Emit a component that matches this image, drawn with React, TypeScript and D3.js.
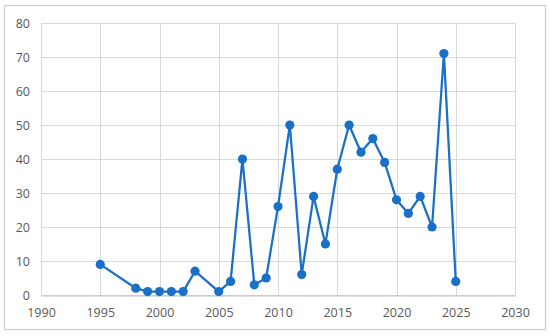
import React, { useRef, useEffect } from "react";
import { axisBottom, axisLeft, line, scaleLinear, select } from "d3";

const years = [
  1995, 1998, 1999, 2000, 2001, 2002, 2003, 2005, 2006, 2007, 2008, 2009, 2010,
  2011, 2012, 2013, 2014, 2015, 2016, 2017, 2018, 2019, 2020, 2021, 2022, 2023,
  2024, 2025,
];
const counts = [
  9, 2, 1, 1, 1, 1, 7, 1, 4, 40, 3, 5, 26, 50, 6, 29, 15, 37, 50, 42, 46, 39,
  28, 24, 29, 20, 71, 4,
];
const xTicks = [1990, 1995, 2000, 2005, 2010, 2015, 2020, 2025, 2030];
const yTicks = [0, 10, 20, 30, 40, 50, 60, 70, 80];

const W = 550;
const H = 336;
const margin = { top: 23, right: 35, bottom: 41, left: 41 };
const blue = "#1a6fc7";

function Chart() {
  const svgRef = useRef<SVGSVGElement>(null);

  useEffect(() => {
    const svg = select(svgRef.current);
    svg.selectAll("*").remove();

    const x = scaleLinear()
      .domain([1990, 2030])
      .range([margin.left, W - margin.right]);
    const y = scaleLinear()
      .domain([0, 80])
      .range([H - margin.bottom, margin.top]);

    // outer chart border
    svg
      .append("rect")
      .attr("x", 4.5)
      .attr("y", 5.5)
      .attr("width", 541)
      .attr("height", 324)
      .attr("fill", "none")
      .attr("stroke", "#cccccc")
      .attr("stroke-width", 1.2);

    // gridlines
    svg
      .append("g")
      .selectAll("line")
      .data(yTicks)
      .join("line")
      .attr("x1", x(1990))
      .attr("x2", x(2030))
      .attr("y1", (d) => Math.round(y(d)) + 0.5)
      .attr("y2", (d) => Math.round(y(d)) + 0.5)
      .attr("stroke", "#d9d9d9");
    svg
      .append("g")
      .selectAll("line")
      .data(xTicks)
      .join("line")
      .attr("x1", (d) => Math.round(x(d)) + 0.5)
      .attr("x2", (d) => Math.round(x(d)) + 0.5)
      .attr("y1", y(0))
      .attr("y2", y(80))
      .attr("stroke", "#d9d9d9");

    const xAxis = svg
      .append("g")
      .attr("transform", `translate(0,${Math.round(y(0)) + 0.5})`)
      .call(
        axisBottom(x)
          .tickValues(xTicks)
          .tickFormat((d) => String(d))
          .tickSize(0)
          .tickPadding(13)
      );
    xAxis.select(".domain").attr("stroke", "#bfbfbf");

    const yAxis = svg
      .append("g")
      .attr("transform", `translate(${margin.left},0)`)
      .call(axisLeft(y).tickValues(yTicks).tickSize(0).tickPadding(11));
    yAxis.select(".domain").remove();

    svg
      .selectAll(".tick text")
      .attr("fill", "#595959")
      .style("font", "12.5px 'Open Sans', sans-serif");

    svg
      .append("path")
      .datum(years.map((yr, i) => [yr, counts[i]] as [number, number]))
      .attr("fill", "none")
      .attr("stroke", blue)
      .attr("stroke-width", 2.25)
      .attr("stroke-linejoin", "round")
      .attr(
        "d",
        line<[number, number]>()
          .x((d) => x(d[0]))
          .y((d) => y(d[1]))
      );

    svg
      .append("g")
      .selectAll("circle")
      .data(years)
      .join("circle")
      .attr("cx", (d) => x(d))
      .attr("cy", (d, i) => y(counts[i]))
      .attr("r", 4.6)
      .attr("fill", blue);
  }, []);

  return (
    <svg
      ref={svgRef}
      width={W}
      height={H}
      style={{ position: "absolute", left: 0, top: 0, background: "white" }}
    />
  );
}

export default function App() {
  return <Chart />;
}
